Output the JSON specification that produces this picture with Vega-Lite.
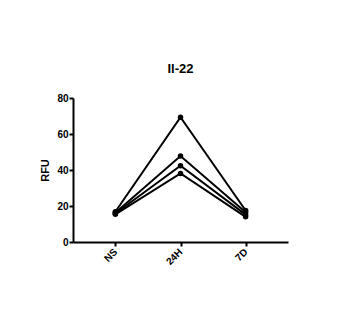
{
  "$schema": "https://vega.github.io/schema/vega-lite/v6.json",
  "autosize": "none",
  "width": 215,
  "height": 144,
  "padding": {"left": 73, "top": 98, "right": 59, "bottom": 73},
  "background": "white",
  "title": {"text": "Il-22", "font": "Liberation Sans", "fontSize": 13, "fontWeight": "bold", "color": "black", "offset": 17, "anchor": "middle"},
  "data": {"values": [
    {"subject": "A", "time": "NS", "rfu": 16.8},
    {"subject": "A", "time": "24H", "rfu": 69.3},
    {"subject": "A", "time": "7D", "rfu": 17.5},
    {"subject": "B", "time": "NS", "rfu": 16.3},
    {"subject": "B", "time": "24H", "rfu": 47.8},
    {"subject": "B", "time": "7D", "rfu": 16.5},
    {"subject": "C", "time": "NS", "rfu": 15.8},
    {"subject": "C", "time": "24H", "rfu": 42.4},
    {"subject": "C", "time": "7D", "rfu": 15.2},
    {"subject": "D", "time": "NS", "rfu": 15.4},
    {"subject": "D", "time": "24H", "rfu": 38.1},
    {"subject": "D", "time": "7D", "rfu": 14.0}
  ]},
  "encoding": {
    "x": {"field": "time", "type": "ordinal", "sort": ["NS", "24H", "7D"],
      "scale": {"type": "point", "padding": 0.65},
      "axis": {"title": null, "labelAngle": -45, "labelAlign": "right", "labelBaseline": "middle",
        "labelFont": "Liberation Sans", "labelFontSize": 10, "labelFontWeight": "bold", "labelColor": "black", "labelPadding": 4,
        "domainColor": "black", "domainWidth": 2, "tickColor": "black", "tickWidth": 2, "tickSize": 4, "grid": false}},
    "y": {"field": "rfu", "type": "quantitative",
      "scale": {"domain": [0, 80], "nice": false},
      "axis": {"title": "RFU", "titleFont": "Liberation Sans", "titleFontSize": 11, "titleFontWeight": "bold", "titleColor": "black", "titlePadding": 6,
        "values": [0, 20, 40, 60, 80], "labelFont": "Liberation Sans", "labelFontSize": 10, "labelFontWeight": "bold", "labelColor": "black", "labelPadding": 1,
        "domainColor": "black", "domainWidth": 2, "tickColor": "black", "tickWidth": 2, "tickSize": 4, "grid": false}}
  },
  "layer": [
    {"mark": {"type": "line", "color": "black", "strokeWidth": 2}, "encoding": {"detail": {"field": "subject"}}},
    {"mark": {"type": "point", "filled": true, "color": "black", "opacity": 1, "size": 30}, "encoding": {"detail": {"field": "subject"}}}
  ],
  "config": {"view": {"stroke": null}}
}
